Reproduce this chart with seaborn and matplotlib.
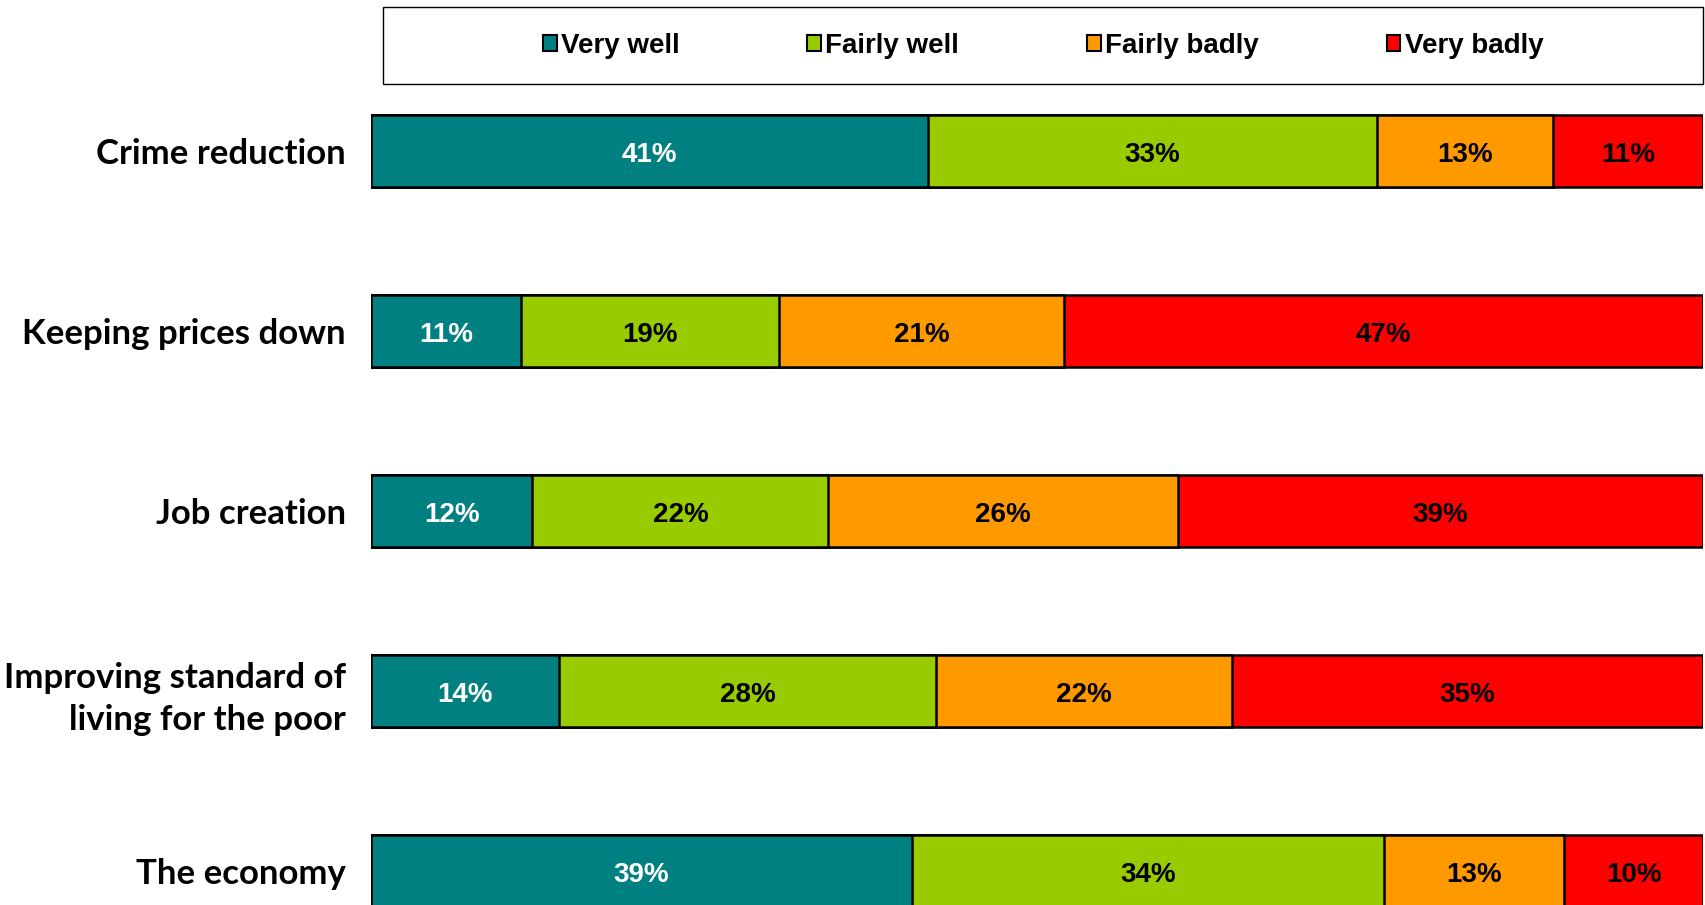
import numpy as np
import pandas as pd
import matplotlib
matplotlib.use("Agg")
import matplotlib.pyplot as plt
import matplotlib.patches as mpatches
import seaborn as sns

# data (percent, as printed on the bars)
categories = ["Crime reduction", "Keeping prices down", "Job creation",
              "Improving standard of\nliving for the poor", "The economy"]
responses = ["Very well", "Fairly well", "Fairly badly", "Very badly"]
very_well = [41, 11, 12, 14, 39]
fairly_well = [33, 19, 22, 28, 34]
fairly_badly = [13, 21, 26, 22, 13]
very_badly = [11, 47, 39, 35, 10]
colors = ["#008080", "#99CC00", "#FF9900", "#FF0000"]
text_colors = ["white", "black", "black", "black"]

df = pd.DataFrame({"category": categories, "Very well": very_well,
                   "Fairly well": fairly_well, "Fairly badly": fairly_badly,
                   "Very badly": very_badly})

# 100% stacked: normalise each row to its total
vals = df[responses].to_numpy(dtype=float)
share = vals / vals.sum(axis=1, keepdims=True)
cum = np.cumsum(share, axis=1)

sns.set_style("white")
fig = plt.figure(figsize=(17.06, 9.05), dpi=100)
ax = fig.add_axes([371 / 1706, 0, (1703 - 371) / 1706, 844 / 905])

# draw cumulative bars from the widest down so each layer sits on top
for k in range(len(responses) - 1, -1, -1):
    sns.barplot(x=cum[:, k], y=df["category"], orient="h", color=colors[k],
                width=0.405, edgecolor="black", linewidth=1.8, saturation=1,
                ax=ax)

for i in range(len(categories)):
    for k in range(len(responses)):
        xc = cum[i, k] - share[i, k] / 2
        ax.text(xc, i + 0.02, f"{int(vals[i, k])}%", ha="center", va="center",
                fontsize=20, fontweight="bold", color=text_colors[k],
                family="Liberation Sans")

ax.set_xlim(0, 1)
ax.set_ylim((905 - 151) / 180, -0.5)
ax.set_xlabel("")
ax.set_ylabel("")
ax.set_xticks([])
ax.tick_params(axis="y", length=0, pad=18)
for lab in ax.get_yticklabels():
    lab.set_fontsize(25)
    lab.set_fontweight("bold")
    lab.set_family("Lato")
    lab.set_color("black")
    lab.set_multialignment("right")
    lab.set_linespacing(1.4)
for s in ax.spines.values():
    s.set_visible(False)

# legend box
box = mpatches.Rectangle((383 / 1706, 1 - 84 / 905), (1703 - 383) / 1706, 77 / 905,
                         transform=fig.transFigure, facecolor="white",
                         edgecolor="black", linewidth=1.0)
fig.patches.append(box)
handles = [mpatches.Patch(facecolor=c, edgecolor="black", linewidth=1.5)
           for c in colors]
leg = fig.legend(handles, responses, loc="center",
                 bbox_to_anchor=((383 + 1703) / 2 / 1706, 1 - 46 / 905),
                 ncol=4, frameon=False, handlelength=0.5, handleheight=0.5,
                 handletextpad=0.15, columnspacing=4.6, labelcolor="black",
                 prop={"family": "Liberation Sans", "weight": "bold", "size": 20})

fig.savefig("out.png", dpi=100)
